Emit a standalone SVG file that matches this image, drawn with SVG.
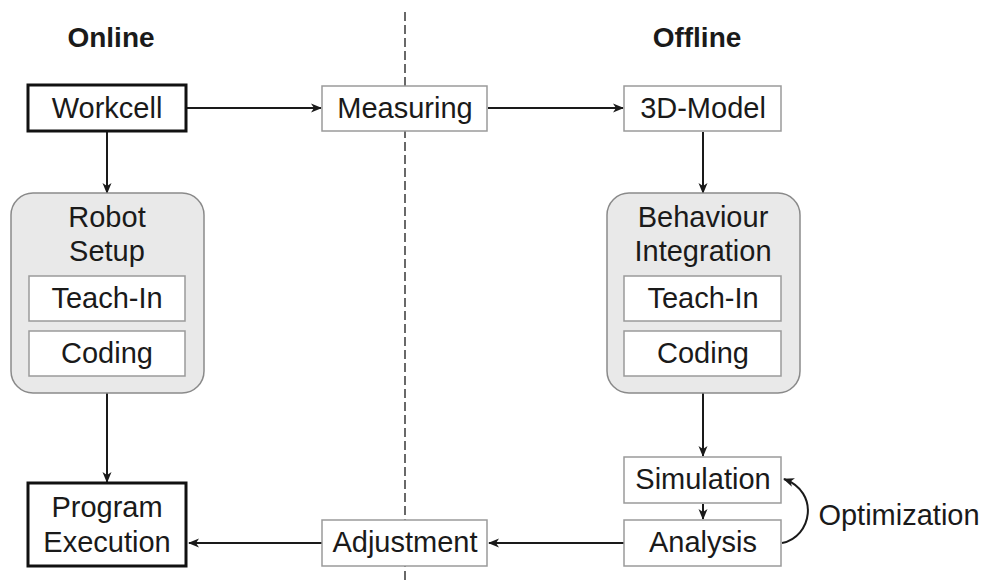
<svg xmlns="http://www.w3.org/2000/svg" width="985" height="580" viewBox="0 0 985 580">
<defs>
<marker id="ah" markerWidth="11" markerHeight="11" refX="10" refY="5.5" orient="auto" markerUnits="userSpaceOnUse">
<path d="M0,1 L11,5.5 L0,10 L3,5.5 Z" fill="#1a1a1a"/>
</marker>
<style>
text{font-family:"Liberation Sans",Arial,sans-serif;font-size:29px;fill:#1a1a1a;text-anchor:middle}
.title{font-weight:bold;font-size:28px}
.thin{fill:#fff;stroke:#9a9a9a;stroke-width:1.5}
.thick{fill:#fff;stroke:#111;stroke-width:3}
.group{fill:#e9e9e9;stroke:#8a8a8a;stroke-width:1.5}
.conn{fill:none;stroke:#1a1a1a;stroke-width:2;marker-end:url(#ah)}
.divider{stroke:#444;stroke-width:1.6;stroke-dasharray:9 4}
</style>
</defs>
<rect width="985" height="580" fill="#fff"/>
<line class="divider" x1="405" y1="12" x2="405" y2="580"/>
<text class="title" x="111" y="47">Online</text>
<text class="title" x="697" y="47">Offline</text>
<g id="connectors">
<line class="conn" x1="187" y1="108" x2="321" y2="108"/>
<line class="conn" x1="488" y1="108" x2="623" y2="108"/>
<line class="conn" x1="107" y1="132" x2="107" y2="193"/>
<line class="conn" x1="703" y1="132" x2="703" y2="193"/>
<line class="conn" x1="107" y1="393" x2="107" y2="482"/>
<line class="conn" x1="703" y1="393" x2="703" y2="456"/>
<line class="conn" x1="703" y1="504" x2="703" y2="519"/>
<line class="conn" x1="624" y1="543" x2="489" y2="543"/>
<line class="conn" x1="322" y1="543" x2="189" y2="543"/>
<path class="conn" d="M782,543 C812,537 820,492 784,479"/>
</g>
<g id="workcell"><rect class="thick" x="28" y="85" width="158" height="46"/><text x="107" y="118">Workcell</text></g>
<g id="measuring"><rect class="thin" x="322" y="86" width="165" height="45"/><text x="405" y="118">Measuring</text></g>
<g id="model3d"><rect class="thin" x="624" y="86" width="157" height="45"/><text x="703" y="118">3D-Model</text></g>
<g id="robot-setup">
<rect class="group" x="11" y="193" width="193" height="200" rx="22"/>
<text x="107" y="227">Robot</text>
<text x="107" y="261">Setup</text>
<rect class="thin" x="29" y="276" width="156" height="45"/><text x="107" y="308">Teach-In</text>
<rect class="thin" x="29" y="331" width="156" height="45"/><text x="107" y="363">Coding</text>
</g>
<g id="behaviour-integration">
<rect class="group" x="607" y="193" width="193" height="200" rx="22"/>
<text x="703" y="227">Behaviour</text>
<text x="703" y="261">Integration</text>
<rect class="thin" x="624" y="276" width="157" height="45"/><text x="703" y="308">Teach-In</text>
<rect class="thin" x="624" y="331" width="157" height="45"/><text x="703" y="363">Coding</text>
</g>
<g id="simulation"><rect class="thin" x="624" y="457" width="157" height="46"/><text x="703" y="489">Simulation</text></g>
<g id="analysis"><rect class="thin" x="624" y="520" width="157" height="46"/><text x="703" y="552">Analysis</text></g>
<g id="adjustment"><rect class="thin" x="322" y="520" width="165" height="46"/><text x="405" y="552">Adjustment</text></g>
<g id="program-execution"><rect class="thick" x="28" y="483" width="158" height="83"/><text x="107" y="517">Program</text><text x="107" y="552">Execution</text></g>
<g id="optimization-label"><text x="899" y="525">Optimization</text></g>
</svg>
